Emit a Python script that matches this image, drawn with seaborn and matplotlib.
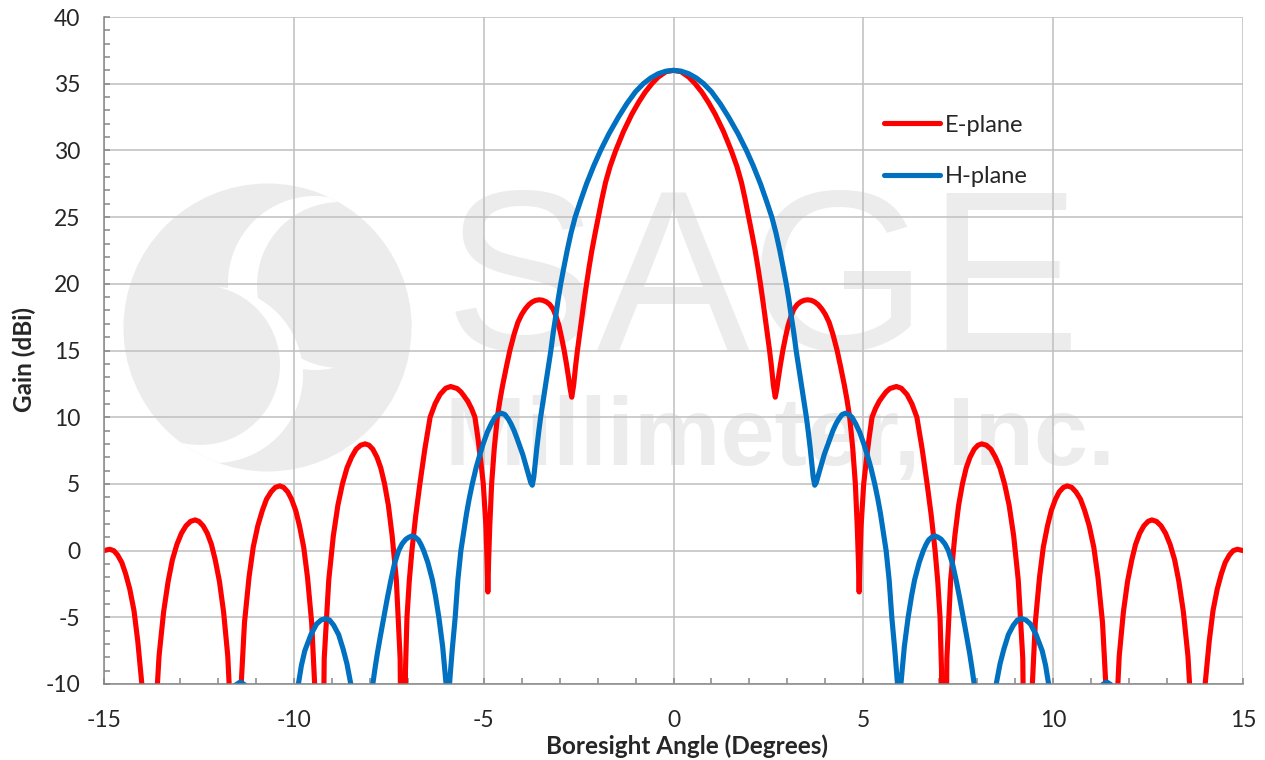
import numpy as np
import pandas as pd
import seaborn as sns
import matplotlib.pyplot as plt
from matplotlib.patches import Circle
from matplotlib.ticker import MultipleLocator

# E-plane pattern (deg, dBi). Nulls below -10 are set deep so they clip.
e_angle = [-15.0, -14.85, -14.74, -14.64, -14.53, -14.43, -14.32, -14.21, -14.11, -14.0,
           -13.9, -13.79, -13.67, -13.55, -13.43, -13.31, -13.2, -13.08, -12.96, -12.84,
           -12.72, -12.6, -12.5, -12.39, -12.28, -12.17, -12.07, -11.96, -11.85, -11.74,
           -11.64, -11.53, -11.41, -11.3, -11.18, -11.07, -10.95, -10.83, -10.72, -10.6,
           -10.49, -10.37, -10.27, -10.16, -10.06, -9.95, -9.85, -9.74, -9.64, -9.53,
           -9.43, -9.32, -9.2, -9.08, -8.96, -8.84, -8.72, -8.6, -8.48, -8.36,
           -8.24, -8.12, -8.02, -7.92, -7.81, -7.71, -7.61, -7.51, -7.41, -7.3,
           -7.2, -7.1, -7.06, -7.02, -6.96, -6.89, -6.79, -6.68, -6.55, -6.41,
           -6.28, -6.15, -6.0, -5.87, -5.7, -5.6, -5.52, -5.42, -5.32, -5.23,
           -5.15, -5.08, -5.01, -4.94, -4.91, -4.89, -4.87, -4.84, -4.79, -4.72,
           -4.64, -4.57, -4.5, -4.4, -4.31, -4.2, -4.1, -4.0, -3.91, -3.81,
           -3.72, -3.63, -3.54, -3.45, -3.35, -3.26, -3.17, -3.1, -3.02, -2.95,
           -2.88, -2.82, -2.76, -2.72, -2.68,
           -2.63, -2.58, -2.53, -2.45, -2.37, -2.29, -2.22, -2.15, -2.07, -1.98,
           -1.89, -1.79, -1.67, -1.52, -1.32, -1.1, -0.92, -0.75, -0.57, -0.4,
           -0.2,
           0.0, 0.2, 0.4, 0.57, 0.75, 0.92, 1.1, 1.32, 1.52, 1.67,
           1.79, 1.89, 1.98, 2.07, 2.15, 2.22, 2.29, 2.37, 2.45, 2.53,
           2.58, 2.63,
           2.68, 2.72, 2.76, 2.82, 2.88, 2.95, 3.02, 3.1, 3.17, 3.26,
           3.35, 3.45, 3.54, 3.63, 3.72, 3.81, 3.91, 4.0, 4.1, 4.2,
           4.31, 4.4, 4.5, 4.57, 4.64, 4.72, 4.79, 4.84, 4.87, 4.89,
           4.91, 4.94, 5.01, 5.08, 5.15, 5.23, 5.32, 5.42, 5.52, 5.6,
           5.7, 5.87, 6.0, 6.15, 6.28, 6.41, 6.55, 6.68, 6.79, 6.89,
           6.96, 7.02, 7.06, 7.1, 7.2, 7.3, 7.41, 7.51, 7.61, 7.71,
           7.81, 7.92, 8.02, 8.12, 8.24, 8.36, 8.48, 8.6, 8.72, 8.84,
           8.96, 9.08, 9.2, 9.32, 9.43, 9.53, 9.64, 9.74, 9.85, 9.95,
           10.06, 10.16, 10.27, 10.37, 10.49, 10.6, 10.72, 10.83, 10.95, 11.07,
           11.18, 11.3, 11.41, 11.53, 11.64, 11.74, 11.85, 11.96, 12.07, 12.17,
           12.28, 12.39, 12.5, 12.6, 12.72, 12.84, 12.96, 13.08, 13.2, 13.31,
           13.43, 13.55, 13.67, 13.79, 13.9, 14.0, 14.11, 14.21, 14.32, 14.43,
           14.53, 14.64, 14.74, 14.85, 15.0]
e_gain = [0.0, 0.1, -0.01, -0.34, -0.9, -1.74, -2.9, -4.5, -6.8, -10.1,
          -16.0, -40.0, -13.8, -7.9, -4.6, -2.3, -0.7, 0.46, 1.3, 1.86,
          2.19, 2.3, 2.19, 1.86, 1.3, 0.46, -0.7, -2.3, -4.6, -7.9,
          -13.8, -40.0, -11.3, -5.4, -2.0, 0.25, 1.85, 3.0, 3.85, 4.4,
          4.74, 4.85, 4.74, 4.4, 3.85, 3.0, 1.85, 0.25, -2.0, -5.4,
          -11.3, -40.0, -8.1, -2.2, 1.1, 3.4, 5.0, 6.2, 7.0, 7.6,
          7.9, 8.0, 7.9, 7.6, 7.0, 6.2, 5.0, 3.4, 1.1, -2.2,
          -8.1, -40.0, -9.0, -5.0, -2.3, 0.0, 2.6, 5.0, 7.6, 10.0,
          11.0, 11.7, 12.17, 12.3, 12.15, 11.9, 11.6, 11.2, 10.65, 10.0,
          8.4, 6.8, 5.0, 1.8, -0.8, -3.1, -0.8, 1.8, 5.0, 7.7,
          10.0, 11.3, 12.4, 13.8, 15.0, 16.2, 17.1, 17.7, 18.1, 18.44,
          18.64, 18.76, 18.8, 18.77, 18.65, 18.45, 18.1, 17.6, 16.9, 16.0,
          15.0, 14.0, 12.9, 12.1, 11.5,
          12.4, 13.8, 15.0, 16.7, 18.4, 20.0, 21.3, 22.5, 23.7, 25.0,
          26.3, 27.6, 28.8, 30.0, 31.4, 32.7, 33.6, 34.35, 35.0, 35.5,
          35.9,
          36.0, 35.9, 35.5, 35.0, 34.35, 33.6, 32.7, 31.4, 30.0, 28.8,
          27.6, 26.3, 25.0, 23.7, 22.5, 21.3, 20.0, 18.4, 16.7, 15.0,
          13.8, 12.4,
          11.5, 12.1, 12.9, 14.0, 15.0, 16.0, 16.9, 17.6, 18.1, 18.45,
          18.65, 18.77, 18.8, 18.76, 18.64, 18.44, 18.1, 17.7, 17.1, 16.2,
          15.0, 13.8, 12.4, 11.3, 10.0, 7.7, 5.0, 1.8, -0.8, -3.1,
          -0.8, 1.8, 5.0, 6.8, 8.4, 10.0, 10.65, 11.2, 11.6, 11.9,
          12.15, 12.3, 12.17, 11.7, 11.0, 10.0, 7.6, 5.0, 2.6, 0.0,
          -2.3, -5.0, -9.0, -40.0, -8.1, -2.2, 1.1, 3.4, 5.0, 6.2,
          7.0, 7.6, 7.9, 8.0, 7.9, 7.6, 7.0, 6.2, 5.0, 3.4,
          1.1, -2.2, -8.1, -40.0, -11.3, -5.4, -2.0, 0.25, 1.85, 3.0,
          3.85, 4.4, 4.74, 4.85, 4.74, 4.4, 3.85, 3.0, 1.85, 0.25,
          -2.0, -5.4, -11.3, -40.0, -13.8, -7.9, -4.6, -2.3, -0.7, 0.46,
          1.3, 1.86, 2.19, 2.3, 2.19, 1.86, 1.3, 0.46, -0.7, -2.3,
          -4.6, -7.9, -13.8, -40.0, -16.0, -10.1, -6.8, -4.5, -2.9, -1.74,
          -0.9, -0.34, -0.01, 0.1, 0.0]

# H-plane pattern
h_angle = [-12.5, -11.9, -11.72, -11.62, -11.52, -11.41, -11.3, -11.2, -11.1, -10.95,
           -10.3, -10.0, -9.88, -9.8, -9.71, -9.55, -9.4, -9.28, -9.17, -9.06,
           -8.95, -8.82, -8.7, -8.6, -8.5, -8.35, -8.2, -8.05, -7.92, -7.86,
           -7.8, -7.72, -7.63, -7.54, -7.45, -7.35, -7.24, -7.15, -7.05, -6.97,
           -6.89, -6.8, -6.72, -6.65, -6.58, -6.47, -6.35, -6.27, -6.18, -6.08,
           -5.99, -5.95, -5.9, -5.83, -5.75, -5.68, -5.6, -5.53, -5.45, -5.38,
           -5.3, -5.2, -5.1, -5.0, -4.9, -4.8, -4.7, -4.62, -4.53, -4.44,
           -4.35, -4.28, -4.2, -4.12, -4.04, -3.97, -3.9, -3.8, -3.76, -3.72,
           -3.68, -3.64, -3.6, -3.55,
           -3.5, -3.44, -3.37, -3.3, -3.23, -3.17, -3.1, -3.04, -2.97, -2.89,
           -2.8, -2.7, -2.59, -2.45, -2.29, -2.1, -1.92, -1.7, -1.45, -1.23,
           -1.0, -0.795, -0.6, -0.4, -0.2,
           0.0, 0.2, 0.4, 0.6, 0.795, 1.0, 1.23, 1.45, 1.7, 1.92,
           2.1, 2.29, 2.45, 2.59, 2.7, 2.8, 2.89, 2.97, 3.04, 3.1,
           3.17, 3.23, 3.3, 3.37, 3.44, 3.5,
           3.55, 3.6, 3.64, 3.68, 3.72,
           3.76, 3.8, 3.9, 3.97, 4.04, 4.12, 4.2, 4.28, 4.35, 4.44,
           4.53, 4.62, 4.7, 4.8, 4.9, 5.0, 5.1, 5.2, 5.3, 5.38,
           5.45, 5.53, 5.6, 5.68, 5.75, 5.83, 5.9, 5.95, 5.99, 6.08,
           6.18, 6.27, 6.35, 6.47, 6.58, 6.65, 6.72, 6.8, 6.89, 6.97,
           7.05, 7.15, 7.24, 7.35, 7.45, 7.54, 7.63, 7.72, 7.8, 7.86,
           7.92, 8.05, 8.2, 8.35, 8.5, 8.6, 8.7, 8.82, 8.95, 9.06,
           9.17, 9.28, 9.4, 9.55, 9.71, 9.8, 9.88, 10.0, 10.3, 10.95,
           11.1, 11.2, 11.3, 11.41, 11.52, 11.62, 11.72, 11.9, 12.5]
h_gain = [-40.0, -14.0, -11.8, -10.6, -10.05, -9.85, -10.05, -10.6, -11.8, -14.0,
          -40.0, -13.0, -10.0, -8.6, -7.5, -6.3, -5.5, -5.2, -5.1, -5.2,
          -5.6, -6.3, -7.4, -8.5, -10.0, -14.0, -40.0, -14.0, -10.0, -8.8,
          -7.7, -6.4, -5.0, -3.6, -2.3, -1.0, 0.0, 0.5, 0.85, 1.0,
          1.1, 1.0, 0.8, 0.45, 0.0, -0.9, -2.2, -3.4, -5.0, -7.2,
          -10.0, -40.0, -10.0, -7.5, -5.0, -2.2, 0.0, 1.3, 2.8, 3.9,
          5.0, 6.2, 7.2, 8.1, 8.9, 9.5, 10.0, 10.2, 10.3, 10.2,
          9.85, 9.5, 9.0, 8.4, 7.75, 7.2, 6.5, 5.5, 5.1, 4.9,
          5.5, 6.6, 7.7, 8.9,
          10.0, 11.1, 12.4, 13.7, 15.0, 16.3, 17.6, 18.8, 20.0, 21.2,
          22.5, 23.8, 25.0, 26.2, 27.5, 28.85, 30.0, 31.25, 32.5, 33.5,
          34.4, 35.0, 35.43, 35.75, 35.94,
          36.0, 35.94, 35.75, 35.43, 35.0, 34.4, 33.5, 32.5, 31.25, 30.0,
          28.85, 27.5, 26.2, 25.0, 23.8, 22.5, 21.2, 20.0, 18.8, 17.6,
          16.3, 15.0, 13.7, 12.4, 11.1, 10.0,
          8.9, 7.7, 6.6, 5.5, 4.9,
          5.1, 5.5, 6.5, 7.2, 7.75, 8.4, 9.0, 9.5, 9.85, 10.2,
          10.3, 10.2, 10.0, 9.5, 8.9, 8.1, 7.2, 6.2, 5.0, 3.9,
          2.8, 1.3, 0.0, -2.2, -5.0, -7.5, -10.0, -40.0, -10.0, -7.2,
          -5.0, -3.4, -2.2, -0.9, 0.0, 0.45, 0.8, 1.0, 1.1, 1.0,
          0.85, 0.5, 0.0, -1.0, -2.3, -3.6, -5.0, -6.4, -7.7, -8.8,
          -10.0, -14.0, -40.0, -14.0, -10.0, -8.5, -7.4, -6.3, -5.6, -5.2,
          -5.1, -5.2, -5.5, -6.3, -7.5, -8.6, -10.0, -13.0, -40.0, -14.0,
          -11.8, -10.6, -10.05, -9.85, -10.05, -10.6, -11.8, -14.0, -40.0]

RED = "#FF0000"
BLUE = "#0070C0"
GRID = "#BFBFBF"
AXIS = "#868686"
MARK = "#ECECEC"

W, H = 1265, 760


def draw_watermark(fig):
    """Faint company logo behind the plot, in pixel coordinates."""
    bg = fig.add_axes([0, 0, 1, 1], zorder=-1)
    bg.set_xlim(0, W)
    bg.set_ylim(H, 0)
    bg.axis("off")

    disc = Circle((267.5, 327.5), 144, color=MARK, lw=0)
    bg.add_patch(disc)
    for (cx, cy), r, c in [((315, 283), 87, "white"), ((340, 285), 83, MARK),
                           ((215, 375), 88, "white"), ((200, 365), 80, MARK)]:
        p = Circle((cx, cy), r, color=c, lw=0)
        bg.add_patch(p)
        p.set_clip_path(disc)

    bg.text(445, 350, "SAGE", fontsize=165, color=MARK, family="Liberation Sans",
            ha="left", va="baseline")
    bg.text(445, 465, "Millimeter, Inc.", fontsize=70, color=MARK,
            family="Liberation Sans", fontweight="bold", ha="left", va="baseline")


def main():
    assert len(e_angle) == len(e_gain) and len(h_angle) == len(h_gain)

    sns.set_theme(style="white")
    plt.rcParams["font.family"] = ["Lato", "DejaVu Sans"]
    plt.rcParams["axes.unicode_minus"] = False

    e_df = pd.DataFrame({"angle": e_angle, "gain": e_gain})
    h_df = pd.DataFrame({"angle": h_angle, "gain": h_gain})

    fig = plt.figure(figsize=(W / 100, H / 100), dpi=100)
    draw_watermark(fig)

    ax = fig.add_axes([104 / W, 1 - 684 / H, (1243 - 104) / W, (684 - 17) / H])
    ax.set_facecolor("none")

    sns.lineplot(data=e_df, x="angle", y="gain", ax=ax, color=RED, lw=3.7,
                 label="E-plane", estimator=None, sort=False)
    sns.lineplot(data=h_df, x="angle", y="gain", ax=ax, color=BLUE, lw=3.7,
                 label="H-plane", estimator=None, sort=False)
    for line in ax.lines:
        line.set_solid_joinstyle("round")
        line.set_solid_capstyle("round")

    ax.set_xlim(-15, 15)
    ax.set_ylim(-10, 40)
    ax.xaxis.set_major_locator(MultipleLocator(5))
    ax.xaxis.set_minor_locator(MultipleLocator(1))
    ax.yaxis.set_major_locator(MultipleLocator(5))
    ax.yaxis.set_minor_locator(MultipleLocator(1))

    ax.grid(True, which="major", color=GRID, lw=1.1)
    ax.set_axisbelow(True)
    for side in ["top", "right"]:
        ax.spines[side].set_visible(False)
    for side in ["left", "bottom"]:
        ax.spines[side].set_color(AXIS)
        ax.spines[side].set_linewidth(1.1)

    ax.tick_params(which="both", direction="in", color=AXIS, width=1.1, length=4.5,
                   left=True, bottom=True, top=False, right=False)
    ax.tick_params(axis="y", labelsize=16.5, pad=17)
    ax.tick_params(axis="x", labelsize=16.5, pad=18.5)

    ax.set_xlabel("Boresight Angle (Degrees)", fontsize=17.5, fontweight="bold")
    ax.set_ylabel("Gain (dBi)", fontsize=17.5, fontweight="bold")
    ax.xaxis.set_label_coords(0.512, -0.076)
    ax.yaxis.set_label_coords(-0.06, 0.487)

    ax.legend(loc="upper left", bbox_to_anchor=(0.6848, 0.8535), frameon=False,
              fontsize=17, handlelength=2.37, handletextpad=0.21, labelspacing=1.29,
              borderpad=0, borderaxespad=0)

    fig.savefig("out.png", dpi=100)


if __name__ == "__main__":
    main()
